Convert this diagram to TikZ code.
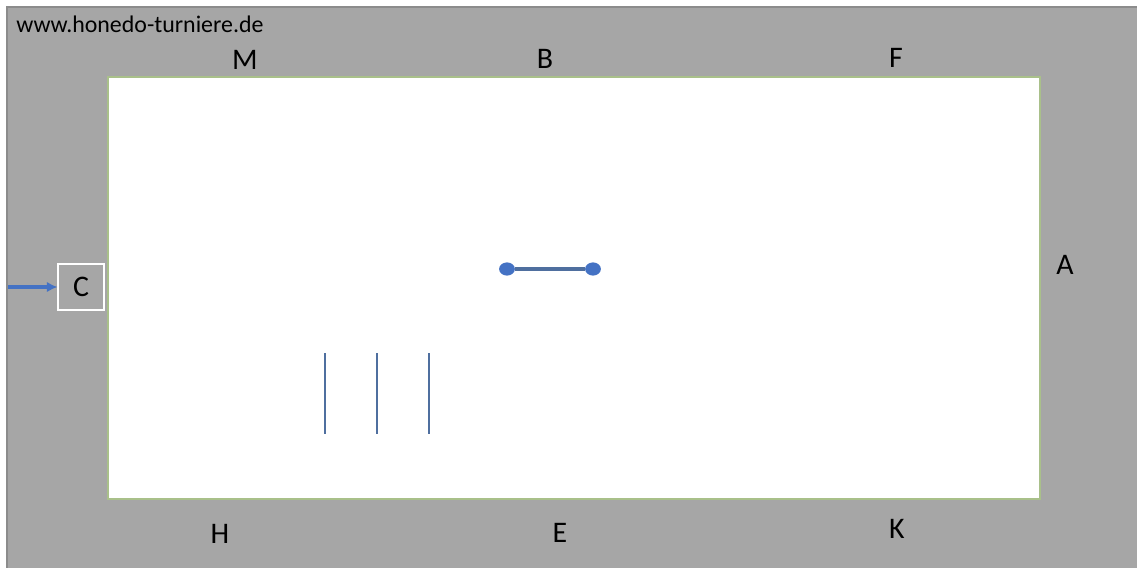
\documentclass[tikz,border=0pt]{standalone}
\usepackage{fontspec}
\setmainfont{Carlito}
\usetikzlibrary{shapes.geometric, arrows.meta}
\definecolor{arena}{HTML}{A6A6A6}
\definecolor{arenaline}{HTML}{8C8C8C}
\definecolor{fence}{HTML}{A9C08A}
\definecolor{mblue}{HTML}{4472C4}
\definecolor{pole}{HTML}{4F6F9F}
\tikzset{
  letter/.style = {font=\fontsize{17}{19}\selectfont, inner sep=0},
  dot/.style = {ellipse, fill=mblue, minimum width=9pt, minimum height=7.5pt, inner sep=0},
}
\begin{document}
\begin{tikzpicture}[x=0.02cm, y=-0.02cm]
            \useasboundingbox (0,0) rectangle (1137,568);
            \fill[white] (0,0) rectangle (1137,568);
            \draw[fill=arena, draw=arenaline, line width=0.6pt] (7,7) rectangle (1140,571);
            \draw[fill=white, draw=fence, line width=0.8pt] (108,77) rectangle (1040,499);
            \node[anchor=west, inner sep=0, font=\fontsize{13.6}{15}\selectfont] (url) at (16,24) {www.honedo-turniere.de};
            % letters round the arena
            \node[letter] (M) at (245,60) {M};
            \node[letter] (B) at (545,59) {B};
            \node[letter] (F) at (896,58) {F};
            \node[letter] (A) at (1065,265) {A};
            \node[letter] (H) at (220,534) {H};
            \node[letter] (E) at (560,533) {E};
            \node[letter] (K) at (897,529) {K};
            \node[draw=white, line width=0.8pt, minimum size=26pt, inner sep=0, font=\fontsize{17}{19}\selectfont] (C) at (81,287) {C};
            \coordinate (entry) at (8,287);
            \draw[mblue, line width=1.8pt, -{Latex[length=6pt, width=6pt]}] (entry) -- (C.west);
            % double pole
            \node[dot] (p1) at (507,269) {};
            \node[dot] (p2) at (593,269) {};
            \draw[pole, line width=1.8pt] (p1) -- (p2);
            % cavaletti
            \foreach \i/\x in {1/325, 2/377, 3/429} {
                \coordinate (t\i) at (\x,353);
                \coordinate (b\i) at (\x,434);
                \draw[pole, line width=1.7pt] (t\i) -- (b\i);
            }
        \end{tikzpicture}
\end{document}
